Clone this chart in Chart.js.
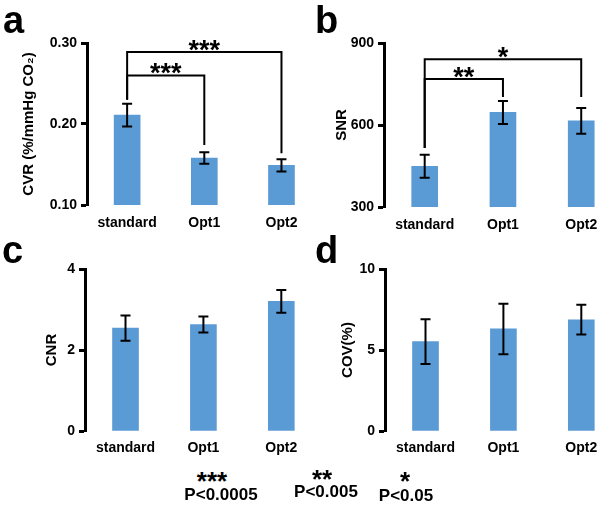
<!DOCTYPE html>
<html>
<head>
<meta charset="utf-8">
<script src="https://cdn.jsdelivr.net/npm/chart.js@4.4.1/dist/chart.umd.min.js"></script>
<style>
  body { margin: 0; background: #fff; font-family: "Liberation Sans", Arial, sans-serif; }
  #page { position: relative; width: 600px; height: 506px; overflow: hidden; background: #fff; }
  canvas { position: absolute; }
  .letter { position: absolute; font-size: 38px; line-height: 38px; font-weight: bold; color: #000; }
  .note { position: absolute; width: 100px; text-align: center; font-weight: bold; color: #000; white-space: nowrap; }
  .stars { font-size: 26px; line-height: 26px; }
  .pval { font-size: 17px; line-height: 17px; }
</style>
</head>
<body>
<div id="page">
  <canvas id="cvrChart" width="300" height="235" style="left:0;top:0"></canvas>
  <canvas id="snrChart" width="300" height="235" style="left:300px;top:0"></canvas>
  <canvas id="cnrChart" width="300" height="235" style="left:0;top:230px"></canvas>
  <canvas id="covChart" width="300" height="235" style="left:300px;top:230px"></canvas>

  <div class="letter" style="left:3px;top:1px">a</div>
  <div class="letter" style="left:315px;top:1px">b</div>
  <div class="letter" style="left:2px;top:231px">c</div>
  <div class="letter" style="left:315px;top:231px">d</div>

  <div class="note stars" style="left:162px;top:468px">***</div>
  <div class="note pval" style="left:171px;top:486px">P&lt;0.0005</div>
  <div class="note stars" style="left:272px;top:466px">**</div>
  <div class="note pval" style="left:276px;top:483px">P&lt;0.005</div>
  <div class="note stars" style="left:355px;top:468px">*</div>
  <div class="note pval" style="left:356px;top:487px">P&lt;0.05</div>
</div>

<script>
const categories = ['standard', 'Opt1', 'Opt2'];

// mean and error (SEM) for each panel
const cvrMean = [0.211, 0.158, 0.149];
const cvrErr = [0.014, 0.007, 0.0075];
const snrMean = [449, 646, 615];
const snrErr = [42, 42, 47];
const cnrMean = [2.54, 2.63, 3.2];
const cnrErr = [0.31, 0.2, 0.28];
const covMean = [5.52, 6.3, 6.87];
const covErr = [1.38, 1.56, 0.92];

// significance brackets, heights in data units
const cvrBrackets = [
  { from: 0, to: 2, level: 0.289, leftEnd: 0.23, rightEnd: 0.164, stars: '***' },
  { from: 0, to: 1, level: 0.26, leftEnd: 0.23, rightEnd: 0.174, stars: '***' }
];
const snrBrackets = [
  { from: 0, to: 2, level: 841, leftEnd: 516, rightEnd: 702, stars: '*' },
  { from: 0, to: 1, level: 768, leftEnd: 516, rightEnd: 702, stars: '**' }
];

Chart.defaults.font.family = '"Liberation Sans", Arial, sans-serif';
Chart.defaults.color = '#000';

const errorBarPlugin = {
  id: 'errorBars',
  afterDatasetsDraw(chart, args, opts) {
    const { ctx, scales: { x, y } } = chart;
    ctx.save();
    ctx.strokeStyle = '#000';
    ctx.fillStyle = '#000';
    ctx.lineWidth = 2;
    opts.means.forEach((m, i) => {
      const px = x.getPixelForValue(i);
      const top = y.getPixelForValue(m + opts.errs[i]);
      const bot = y.getPixelForValue(m - opts.errs[i]);
      ctx.beginPath();
      ctx.moveTo(px, top); ctx.lineTo(px, bot);
      ctx.moveTo(px - 5, top); ctx.lineTo(px + 5, top);
      ctx.moveTo(px - 5, bot); ctx.lineTo(px + 5, bot);
      ctx.stroke();
    });
    (opts.brackets || []).forEach(b => {
      const x1 = x.getPixelForValue(b.from);
      const x2 = x.getPixelForValue(b.to);
      const yl = y.getPixelForValue(b.level);
      ctx.beginPath();
      ctx.moveTo(x1, y.getPixelForValue(b.leftEnd));
      ctx.lineTo(x1, yl);
      ctx.lineTo(x2, yl);
      ctx.lineTo(x2, y.getPixelForValue(b.rightEnd));
      ctx.stroke();
      ctx.font = 'bold 27px "Liberation Sans"';
      ctx.textAlign = 'center';
      ctx.textBaseline = 'alphabetic';
      ctx.fillText(b.stars, (x1 + x2) / 2, yl + 7);
    });
    ctx.restore();
  }
};

function makePanel(id, means, errs, yAxis, yTitle, lay, brackets) {
  return new Chart(document.getElementById(id), {
    type: 'bar',
    data: {
      datasets: [{
        data: means.map((v, i) => ({ x: i, y: v })),
        backgroundColor: '#5b9bd5',
        barThickness: 26
      }]
    },
    options: {
      responsive: false,
      animation: false,
      events: [],
      layout: { autoPadding: false, padding: { top: lay.top, left: 0, right: 0, bottom: 0 } },
      plugins: {
        legend: { display: false },
        tooltip: { enabled: false },
        errorBars: { means: means, errs: errs, brackets: brackets }
      },
      scales: {
        x: {
          type: 'linear', min: -0.52, max: 2.24, offset: false,
          grid: { display: false, drawTicks: false, offset: false },
          border: { display: false },
          afterBuildTicks: s => { s.ticks = categories.map((c, i) => ({ value: i })); },
          afterFit: s => { s.height = lay.xHeight; s.paddingLeft = 0; s.paddingRight = 0; },
          ticks: {
            callback: v => categories[v],
            padding: lay.labelPad, maxRotation: 0, autoSkip: false,
            font: { size: 14, weight: 'bold' }
          }
        },
        y: {
          min: yAxis.min, max: yAxis.max,
          ticks: { stepSize: yAxis.step, callback: yAxis.fmt, padding: 4, font: { size: 14, weight: 'bold' } },
          grid: { drawOnChartArea: false, drawTicks: true, tickLength: 6, tickWidth: 3, tickColor: '#000', color: '#000' },
          border: { display: true, width: 3, color: '#000' },
          title: {
            display: true, text: yTitle,
            font: { size: 15, weight: 'bold' },
            padding: { top: lay.titlePad, bottom: 0 }
          },
          afterFit: s => { s.width = lay.axisX; }
        }
      }
    },
    plugins: [errorBarPlugin]
  });
}

makePanel('cvrChart', cvrMean, cvrErr,
  { min: 0.1, max: 0.3, step: 0.1, fmt: v => v.toFixed(2) },
  'CVR (%/mmHg CO\u2082)', { top: 43, xHeight: 30, axisX: 87, titlePad: 20, labelPad: 10 }, cvrBrackets);

makePanel('snrChart', snrMean, snrErr,
  { min: 300, max: 900, step: 300, fmt: v => v },
  'SNR', { top: 43, xHeight: 28, axisX: 84, titlePad: 33, labelPad: 10 }, snrBrackets);

makePanel('cnrChart', cnrMean, cnrErr,
  { min: 0, max: 4, step: 2, fmt: v => v },
  'CNR', { top: 39, xHeight: 34, axisX: 85, titlePad: 43, labelPad: 9 }, []);

makePanel('covChart', covMean, covErr,
  { min: 0, max: 10, step: 5, fmt: v => v },
  'COV(%)', { top: 39, xHeight: 34, axisX: 85, titlePad: 39, labelPad: 9 }, []);
</script>
</body>
</html>
